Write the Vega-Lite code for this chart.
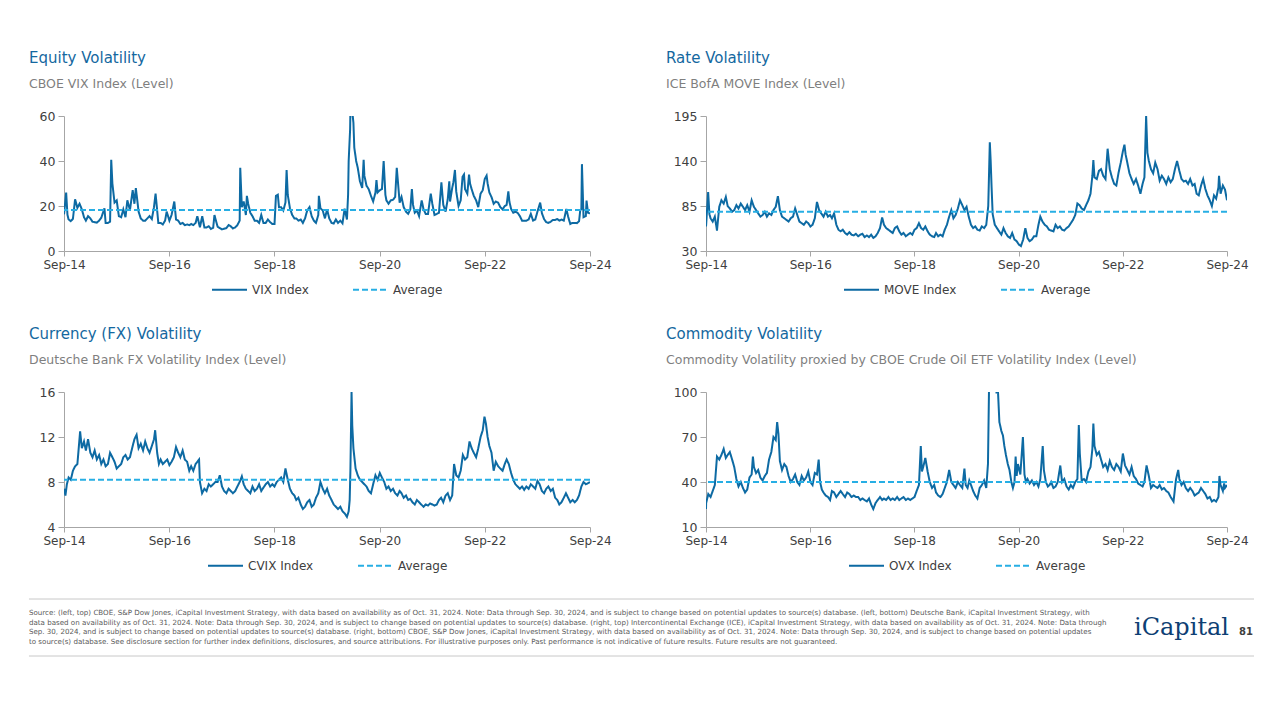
{
  "$schema": "https://vega.github.io/schema/vega-lite/v6.json",
  "background": "white",
  "padding": {"left": 28, "top": 50, "right": 0, "bottom": 0},
  "autosize": {"type": "pad"},
  "config": {
    "font": "DejaVu Sans",
    "view": {"stroke": null},
    "axis": {"grid": false, "domainColor": "#a6a6a6", "tickColor": "#a6a6a6", "labelColor": "#404040", "labelFont": "DejaVu Sans", "title": null, "labelPadding": 3},
    "axisX": {"tickSize": 5, "labelFlush": false, "labelOverlap": false, "labelFontSize": 12},
    "axisY": {"tickSize": 6, "labelFlush": false, "labelOverlap": false, "labelFontSize": 12.5},
    "title": {"anchor": "start", "frame": "group", "fontSize": 15, "font": "DejaVu Sans", "fontWeight": 400, "color": "#1468a0", "subtitleFont": "DejaVu Sans", "subtitleFontSize": 12.5, "subtitleColor": "#7f7f7f", "subtitlePadding": 12, "offset": 20},
    "legend": {"orient": "bottom", "direction": "horizontal", "labelFontSize": 12, "labelFont": "DejaVu Sans", "labelColor": "#404040", "symbolType": "stroke", "symbolSize": 1225, "symbolStrokeWidth": 2, "labelOffset": 4, "columnPadding": 40, "offset": 1, "padding": 0, "layout": {"bottom": {"anchor": "middle"}}}
  },
  "resolve": {"scale": {"color": "independent", "strokeDash": "independent"}, "legend": {"color": "independent", "strokeDash": "independent"}},
  "spacing": 26,
  "vconcat": [
    {
      "spacing": 30,
      "resolve": {"scale": {"color": "independent", "strokeDash": "independent"}, "legend": {"color": "independent", "strokeDash": "independent"}},
      "vconcat": [
        {
          "spacing": 54,
          "resolve": {"scale": {"color": "independent", "strokeDash": "independent"}, "legend": {"color": "independent", "strokeDash": "independent"}},
          "hconcat": [
            {
              "title": {"text": "Equity Volatility", "subtitle": "CBOE VIX Index (Level)", "dx": -35},
              "width": 526, "height": 135,
              "layer": [
                {
                  "data": {"format": {"parse": {"d": "date:'%Y-%m-%d'"}}, "values": [
{"d":"2014-09-30","v":16.3},{"d":"2014-10-01","v":16.7},{"d":"2014-10-15","v":26.0},{"d":"2014-10-24","v":16.1},{"d":"2014-11-01","v":14.0},{"d":"2014-11-16","v":13.3},{"d":"2014-12-01","v":14.3},{"d":"2014-12-16","v":23.0},{"d":"2015-01-01","v":19.2},{"d":"2015-01-16","v":21.0},{"d":"2015-02-01","v":18.5},{"d":"2015-02-16","v":15.0},{"d":"2015-03-01","v":13.5},{"d":"2015-03-16","v":15.5},{"d":"2015-04-01","v":14.5},{"d":"2015-04-16","v":13.0},{"d":"2015-05-01","v":12.8},{"d":"2015-05-16","v":12.6},{"d":"2015-06-01","v":13.5},{"d":"2015-06-16","v":14.8},{"d":"2015-07-08","v":19.0},{"d":"2015-07-16","v":12.5},{"d":"2015-08-01","v":12.5},{"d":"2015-08-16","v":13.0},{"d":"2015-08-24","v":40.5},{"d":"2015-09-01","v":30.0},{"d":"2015-09-16","v":21.5},{"d":"2015-10-01","v":22.5},{"d":"2015-10-16","v":15.5},{"d":"2015-11-01","v":15.0},{"d":"2015-11-16","v":18.5},{"d":"2015-12-01","v":15.0},{"d":"2015-12-14","v":22.5},{"d":"2016-01-01","v":18.2},{"d":"2016-01-20","v":27.0},{"d":"2016-02-01","v":21.0},{"d":"2016-02-11","v":28.0},{"d":"2016-03-01","v":17.5},{"d":"2016-03-16","v":14.5},{"d":"2016-04-01","v":13.5},{"d":"2016-04-16","v":13.5},{"d":"2016-05-01","v":14.5},{"d":"2016-05-16","v":15.5},{"d":"2016-06-01","v":14.2},{"d":"2016-06-16","v":19.5},{"d":"2016-06-27","v":25.5},{"d":"2016-07-16","v":12.5},{"d":"2016-08-01","v":12.5},{"d":"2016-08-16","v":11.8},{"d":"2016-09-01","v":13.5},{"d":"2016-09-12","v":17.5},{"d":"2016-10-01","v":13.5},{"d":"2016-10-16","v":16.0},{"d":"2016-11-04","v":22.0},{"d":"2016-11-16","v":14.0},{"d":"2016-12-01","v":13.5},{"d":"2016-12-16","v":12.0},{"d":"2017-01-01","v":12.5},{"d":"2017-01-16","v":11.5},{"d":"2017-02-01","v":11.8},{"d":"2017-02-16","v":11.5},{"d":"2017-03-01","v":12.0},{"d":"2017-03-16","v":11.5},{"d":"2017-04-01","v":12.5},{"d":"2017-04-13","v":15.5},{"d":"2017-05-01","v":10.5},{"d":"2017-05-17","v":15.5},{"d":"2017-06-01","v":10.5},{"d":"2017-06-16","v":10.5},{"d":"2017-07-01","v":11.0},{"d":"2017-07-16","v":9.8},{"d":"2017-08-01","v":10.3},{"d":"2017-08-10","v":16.0},{"d":"2017-08-20","v":13.5},{"d":"2017-09-01","v":10.8},{"d":"2017-09-16","v":10.2},{"d":"2017-10-01","v":9.6},{"d":"2017-10-16","v":9.9},{"d":"2017-11-01","v":10.2},{"d":"2017-11-16","v":11.5},{"d":"2017-12-01","v":11.0},{"d":"2017-12-16","v":10.0},{"d":"2018-01-01","v":10.5},{"d":"2018-01-16","v":11.5},{"d":"2018-02-01","v":13.5},{"d":"2018-02-05","v":37.0},{"d":"2018-02-16","v":19.5},{"d":"2018-03-01","v":22.0},{"d":"2018-03-16","v":16.0},{"d":"2018-03-23","v":24.5},{"d":"2018-04-01","v":21.0},{"d":"2018-04-16","v":17.0},{"d":"2018-05-01","v":15.5},{"d":"2018-05-16","v":13.5},{"d":"2018-06-01","v":13.5},{"d":"2018-06-16","v":12.5},{"d":"2018-07-01","v":16.0},{"d":"2018-07-16","v":12.5},{"d":"2018-08-01","v":12.5},{"d":"2018-08-16","v":14.0},{"d":"2018-09-01","v":12.8},{"d":"2018-09-16","v":12.0},{"d":"2018-10-01","v":12.0},{"d":"2018-10-11","v":24.5},{"d":"2018-10-24","v":25.0},{"d":"2018-11-01","v":19.5},{"d":"2018-11-16","v":19.5},{"d":"2018-12-01","v":18.0},{"d":"2018-12-16","v":21.5},{"d":"2018-12-24","v":36.0},{"d":"2019-01-01","v":25.0},{"d":"2019-01-16","v":19.0},{"d":"2019-02-01","v":16.0},{"d":"2019-02-16","v":14.5},{"d":"2019-03-01","v":14.5},{"d":"2019-03-16","v":13.5},{"d":"2019-04-01","v":14.0},{"d":"2019-04-16","v":12.5},{"d":"2019-05-01","v":14.5},{"d":"2019-05-16","v":18.0},{"d":"2019-06-01","v":19.5},{"d":"2019-06-16","v":15.5},{"d":"2019-07-01","v":13.5},{"d":"2019-07-16","v":12.5},{"d":"2019-08-01","v":16.0},{"d":"2019-08-05","v":24.5},{"d":"2019-08-16","v":19.0},{"d":"2019-09-01","v":18.0},{"d":"2019-09-16","v":14.5},{"d":"2019-10-01","v":18.5},{"d":"2019-10-16","v":14.5},{"d":"2019-11-01","v":12.5},{"d":"2019-11-16","v":12.2},{"d":"2019-12-01","v":14.0},{"d":"2019-12-16","v":12.5},{"d":"2020-01-01","v":13.5},{"d":"2020-01-16","v":12.3},{"d":"2020-01-31","v":18.8},{"d":"2020-02-16","v":14.0},{"d":"2020-02-24","v":25.0},{"d":"2020-02-28","v":40.0},{"d":"2020-03-09","v":54.0},{"d":"2020-03-16","v":82.0},{"d":"2020-03-24","v":62.0},{"d":"2020-04-01","v":57.0},{"d":"2020-04-07","v":46.0},{"d":"2020-04-20","v":40.0},{"d":"2020-05-01","v":37.0},{"d":"2020-05-16","v":31.0},{"d":"2020-06-01","v":28.0},{"d":"2020-06-11","v":40.5},{"d":"2020-06-16","v":33.5},{"d":"2020-07-01","v":29.0},{"d":"2020-07-16","v":27.5},{"d":"2020-08-01","v":24.5},{"d":"2020-08-16","v":22.0},{"d":"2020-09-01","v":26.0},{"d":"2020-09-08","v":31.5},{"d":"2020-09-16","v":26.0},{"d":"2020-10-01","v":27.0},{"d":"2020-10-16","v":27.5},{"d":"2020-10-28","v":40.0},{"d":"2020-11-09","v":25.0},{"d":"2020-11-16","v":22.5},{"d":"2020-12-01","v":21.0},{"d":"2020-12-16","v":22.5},{"d":"2021-01-01","v":22.8},{"d":"2021-01-16","v":24.0},{"d":"2021-01-27","v":37.0},{"d":"2021-02-16","v":21.5},{"d":"2021-03-01","v":24.0},{"d":"2021-03-16","v":19.5},{"d":"2021-04-01","v":17.5},{"d":"2021-04-16","v":16.5},{"d":"2021-05-01","v":18.5},{"d":"2021-05-12","v":27.5},{"d":"2021-05-20","v":20.5},{"d":"2021-06-01","v":17.0},{"d":"2021-06-16","v":18.0},{"d":"2021-07-01","v":15.5},{"d":"2021-07-19","v":22.5},{"d":"2021-08-01","v":18.5},{"d":"2021-08-16","v":16.5},{"d":"2021-09-01","v":16.5},{"d":"2021-09-20","v":25.5},{"d":"2021-10-01","v":21.0},{"d":"2021-10-16","v":16.0},{"d":"2021-11-01","v":16.5},{"d":"2021-11-16","v":17.0},{"d":"2021-11-30","v":28.0},{"d":"2021-12-03","v":30.5},{"d":"2021-12-16","v":20.5},{"d":"2022-01-01","v":17.5},{"d":"2022-01-16","v":23.0},{"d":"2022-01-27","v":31.0},{"d":"2022-02-01","v":22.0},{"d":"2022-02-16","v":28.0},{"d":"2022-02-24","v":30.5},{"d":"2022-03-07","v":36.0},{"d":"2022-03-16","v":26.5},{"d":"2022-04-01","v":20.0},{"d":"2022-04-16","v":22.5},{"d":"2022-04-29","v":33.0},{"d":"2022-05-09","v":34.0},{"d":"2022-05-16","v":27.5},{"d":"2022-06-01","v":25.5},{"d":"2022-06-13","v":34.0},{"d":"2022-06-20","v":30.0},{"d":"2022-07-01","v":27.5},{"d":"2022-07-16","v":24.5},{"d":"2022-08-01","v":22.5},{"d":"2022-08-16","v":19.5},{"d":"2022-09-01","v":25.5},{"d":"2022-09-16","v":27.0},{"d":"2022-09-30","v":32.0},{"d":"2022-10-13","v":33.5},{"d":"2022-10-20","v":30.0},{"d":"2022-11-01","v":26.0},{"d":"2022-11-16","v":24.0},{"d":"2022-12-01","v":21.0},{"d":"2022-12-16","v":22.0},{"d":"2023-01-01","v":21.5},{"d":"2023-01-16","v":19.5},{"d":"2023-02-01","v":18.5},{"d":"2023-02-16","v":20.0},{"d":"2023-03-01","v":20.5},{"d":"2023-03-13","v":26.5},{"d":"2023-03-20","v":22.0},{"d":"2023-04-01","v":18.7},{"d":"2023-04-16","v":17.0},{"d":"2023-05-01","v":17.5},{"d":"2023-05-16","v":17.0},{"d":"2023-06-01","v":15.5},{"d":"2023-06-16","v":13.5},{"d":"2023-07-01","v":13.5},{"d":"2023-07-16","v":13.5},{"d":"2023-08-01","v":14.0},{"d":"2023-08-16","v":16.5},{"d":"2023-09-01","v":13.5},{"d":"2023-09-16","v":14.0},{"d":"2023-10-01","v":17.5},{"d":"2023-10-20","v":21.5},{"d":"2023-11-01","v":16.8},{"d":"2023-11-16","v":14.2},{"d":"2023-12-01","v":12.8},{"d":"2023-12-16","v":12.5},{"d":"2024-01-01","v":13.0},{"d":"2024-01-16","v":13.8},{"d":"2024-02-01","v":13.8},{"d":"2024-02-16","v":14.2},{"d":"2024-03-01","v":13.5},{"d":"2024-03-16","v":14.0},{"d":"2024-04-01","v":13.5},{"d":"2024-04-19","v":18.7},{"d":"2024-05-01","v":15.3},{"d":"2024-05-16","v":12.0},{"d":"2024-06-01","v":12.5},{"d":"2024-06-16","v":12.5},{"d":"2024-07-01","v":12.4},{"d":"2024-07-16","v":13.2},{"d":"2024-07-24","v":18.0},{"d":"2024-08-01","v":18.6},{"d":"2024-08-05","v":38.6},{"d":"2024-08-16","v":15.0},{"d":"2024-09-01","v":15.5},{"d":"2024-09-06","v":22.4},{"d":"2024-09-16","v":17.0},{"d":"2024-09-30","v":16.7}
                  ]},
                  "mark": {"type": "line", "strokeWidth": 2, "clip": true},
                  "encoding": {
                    "x": {"field": "d", "type": "temporal", "scale": {"domain": [{"year": 2014, "month": 9, "date": 30}, {"year": 2024, "month": 9, "date": 30}]}, "axis": {"format": "%b-%y", "values": [{"year": 2014, "month": 9, "date": 30}, {"year": 2016, "month": 9, "date": 30}, {"year": 2018, "month": 9, "date": 30}, {"year": 2020, "month": 9, "date": 30}, {"year": 2022, "month": 9, "date": 30}, {"year": 2024, "month": 9, "date": 30}]}},
                    "y": {"field": "v", "type": "quantitative", "scale": {"domain": [0, 60], "nice": false, "zero": false}, "axis": {"values": [0, 20, 40, 60]}},
                    "color": {"datum": "VIX Index", "type": "nominal", "scale": {"domain": ["VIX Index", "Average"], "range": ["#0d6aa3", "#27aee4"]}, "legend": {"title": null}},
                    "strokeDash": {"datum": "VIX Index", "type": "nominal", "scale": {"domain": ["VIX Index", "Average"], "range": [[1, 0], [6, 3]]}, "legend": {"title": null}}
                  }
                },
                {
                  "data": {"values": [{"v": 18.2}]},
                  "mark": {"type": "rule", "strokeWidth": 2},
                  "encoding": {
                    "y": {"field": "v", "type": "quantitative"},
                    "color": {"datum": "Average", "type": "nominal"},
                    "strokeDash": {"datum": "Average", "type": "nominal"}
                  }
                }
              ]
            },
            {
              "title": {"text": "Rate Volatility", "subtitle": "ICE BofA MOVE Index (Level)", "dx": -40},
              "width": 521, "height": 135,
              "layer": [
                {
                  "data": {"format": {"parse": {"d": "date:'%Y-%m-%d'"}}, "values": [
{"d":"2014-09-30","v":60},{"d":"2014-10-01","v":62},{"d":"2014-10-15","v":102},{"d":"2014-10-24","v":75},{"d":"2014-11-01","v":70},{"d":"2014-11-16","v":66},{"d":"2014-12-01","v":72},{"d":"2014-12-16","v":55},{"d":"2015-01-01","v":84},{"d":"2015-01-16","v":92},{"d":"2015-02-01","v":88},{"d":"2015-02-16","v":96},{"d":"2015-03-01","v":85},{"d":"2015-03-16","v":82},{"d":"2015-04-01","v":78},{"d":"2015-04-16","v":80},{"d":"2015-05-01","v":86},{"d":"2015-05-16","v":82},{"d":"2015-06-01","v":88},{"d":"2015-06-16","v":84},{"d":"2015-07-01","v":80},{"d":"2015-07-16","v":86},{"d":"2015-08-01","v":78},{"d":"2015-08-16","v":92},{"d":"2015-09-01","v":84},{"d":"2015-09-16","v":80},{"d":"2015-10-01","v":76},{"d":"2015-10-16","v":72},{"d":"2015-11-01","v":74},{"d":"2015-11-16","v":78},{"d":"2015-12-01","v":72},{"d":"2015-12-16","v":76},{"d":"2016-01-01","v":74},{"d":"2016-01-16","v":80},{"d":"2016-02-01","v":84},{"d":"2016-02-16","v":97},{"d":"2016-03-01","v":80},{"d":"2016-03-16","v":72},{"d":"2016-04-01","v":70},{"d":"2016-04-16","v":68},{"d":"2016-05-01","v":66},{"d":"2016-05-16","v":70},{"d":"2016-06-01","v":72},{"d":"2016-06-16","v":82},{"d":"2016-07-01","v":74},{"d":"2016-07-16","v":66},{"d":"2016-08-01","v":64},{"d":"2016-08-16","v":62},{"d":"2016-09-01","v":66},{"d":"2016-09-16","v":64},{"d":"2016-10-01","v":60},{"d":"2016-10-16","v":62},{"d":"2016-11-01","v":70},{"d":"2016-11-16","v":90},{"d":"2016-12-01","v":80},{"d":"2016-12-16","v":76},{"d":"2017-01-01","v":72},{"d":"2017-01-16","v":78},{"d":"2017-02-01","v":72},{"d":"2017-02-16","v":74},{"d":"2017-03-01","v":70},{"d":"2017-03-16","v":76},{"d":"2017-04-01","v":62},{"d":"2017-04-16","v":56},{"d":"2017-05-01","v":54},{"d":"2017-05-16","v":56},{"d":"2017-06-01","v":52},{"d":"2017-06-16","v":50},{"d":"2017-07-01","v":53},{"d":"2017-07-16","v":50},{"d":"2017-08-01","v":49},{"d":"2017-08-16","v":51},{"d":"2017-09-01","v":48},{"d":"2017-09-16","v":50},{"d":"2017-10-01","v":51},{"d":"2017-10-16","v":47},{"d":"2017-11-01","v":49},{"d":"2017-11-16","v":47},{"d":"2017-12-01","v":50},{"d":"2017-12-16","v":46},{"d":"2018-01-01","v":48},{"d":"2018-01-16","v":52},{"d":"2018-02-01","v":58},{"d":"2018-02-16","v":71},{"d":"2018-03-01","v":62},{"d":"2018-03-16","v":58},{"d":"2018-04-01","v":56},{"d":"2018-04-16","v":54},{"d":"2018-05-01","v":52},{"d":"2018-05-16","v":58},{"d":"2018-06-01","v":60},{"d":"2018-06-16","v":54},{"d":"2018-07-01","v":50},{"d":"2018-07-16","v":52},{"d":"2018-08-01","v":48},{"d":"2018-08-16","v":50},{"d":"2018-09-01","v":52},{"d":"2018-09-16","v":50},{"d":"2018-10-01","v":56},{"d":"2018-10-16","v":58},{"d":"2018-11-01","v":64},{"d":"2018-11-16","v":58},{"d":"2018-12-01","v":56},{"d":"2018-12-16","v":60},{"d":"2019-01-01","v":54},{"d":"2019-01-16","v":50},{"d":"2019-02-01","v":48},{"d":"2019-02-16","v":47},{"d":"2019-03-01","v":52},{"d":"2019-03-16","v":48},{"d":"2019-04-01","v":50},{"d":"2019-04-16","v":48},{"d":"2019-05-01","v":56},{"d":"2019-05-16","v":62},{"d":"2019-06-01","v":72},{"d":"2019-06-16","v":80},{"d":"2019-07-01","v":70},{"d":"2019-07-16","v":74},{"d":"2019-08-01","v":82},{"d":"2019-08-16","v":92},{"d":"2019-09-01","v":86},{"d":"2019-09-16","v":80},{"d":"2019-10-01","v":84},{"d":"2019-10-16","v":72},{"d":"2019-11-01","v":62},{"d":"2019-11-16","v":58},{"d":"2019-12-01","v":60},{"d":"2019-12-16","v":56},{"d":"2020-01-01","v":55},{"d":"2020-01-16","v":60},{"d":"2020-02-01","v":58},{"d":"2020-02-16","v":62},{"d":"2020-03-01","v":85},{"d":"2020-03-12","v":163},{"d":"2020-03-18","v":140},{"d":"2020-03-24","v":110},{"d":"2020-04-01","v":75},{"d":"2020-04-16","v":62},{"d":"2020-05-01","v":58},{"d":"2020-05-16","v":54},{"d":"2020-06-01","v":50},{"d":"2020-06-16","v":58},{"d":"2020-07-01","v":52},{"d":"2020-07-16","v":48},{"d":"2020-08-01","v":46},{"d":"2020-08-16","v":52},{"d":"2020-09-01","v":44},{"d":"2020-09-16","v":42},{"d":"2020-10-01","v":38},{"d":"2020-10-16","v":36},{"d":"2020-11-01","v":44},{"d":"2020-11-16","v":58},{"d":"2020-12-01","v":46},{"d":"2020-12-16","v":42},{"d":"2021-01-01","v":44},{"d":"2021-01-16","v":48},{"d":"2021-02-01","v":48},{"d":"2021-02-16","v":62},{"d":"2021-03-01","v":72},{"d":"2021-03-16","v":66},{"d":"2021-04-01","v":62},{"d":"2021-04-16","v":60},{"d":"2021-05-01","v":56},{"d":"2021-05-16","v":55},{"d":"2021-06-01","v":54},{"d":"2021-06-16","v":62},{"d":"2021-07-01","v":58},{"d":"2021-07-16","v":60},{"d":"2021-08-01","v":56},{"d":"2021-08-16","v":55},{"d":"2021-09-01","v":58},{"d":"2021-09-16","v":60},{"d":"2021-10-01","v":64},{"d":"2021-10-16","v":68},{"d":"2021-11-01","v":74},{"d":"2021-11-16","v":88},{"d":"2021-12-01","v":86},{"d":"2021-12-16","v":82},{"d":"2022-01-01","v":80},{"d":"2022-01-16","v":86},{"d":"2022-02-01","v":92},{"d":"2022-02-16","v":100},{"d":"2022-03-01","v":122},{"d":"2022-03-08","v":141},{"d":"2022-03-16","v":120},{"d":"2022-04-01","v":118},{"d":"2022-04-16","v":128},{"d":"2022-05-01","v":130},{"d":"2022-05-16","v":122},{"d":"2022-06-01","v":118},{"d":"2022-06-16","v":155},{"d":"2022-07-01","v":130},{"d":"2022-07-16","v":120},{"d":"2022-08-01","v":112},{"d":"2022-08-16","v":110},{"d":"2022-09-01","v":126},{"d":"2022-09-16","v":138},{"d":"2022-10-01","v":152},{"d":"2022-10-12","v":160},{"d":"2022-10-20","v":148},{"d":"2022-11-01","v":138},{"d":"2022-11-16","v":125},{"d":"2022-12-01","v":118},{"d":"2022-12-16","v":112},{"d":"2023-01-01","v":118},{"d":"2023-01-16","v":110},{"d":"2023-02-01","v":100},{"d":"2023-02-16","v":112},{"d":"2023-03-01","v":120},{"d":"2023-03-13","v":195},{"d":"2023-03-22","v":150},{"d":"2023-04-01","v":140},{"d":"2023-04-16","v":130},{"d":"2023-05-01","v":125},{"d":"2023-05-16","v":138},{"d":"2023-06-01","v":130},{"d":"2023-06-16","v":116},{"d":"2023-07-01","v":122},{"d":"2023-07-16","v":118},{"d":"2023-08-01","v":112},{"d":"2023-08-16","v":120},{"d":"2023-09-01","v":114},{"d":"2023-09-16","v":118},{"d":"2023-10-01","v":130},{"d":"2023-10-16","v":140},{"d":"2023-11-01","v":128},{"d":"2023-11-16","v":118},{"d":"2023-12-01","v":115},{"d":"2023-12-16","v":116},{"d":"2024-01-01","v":112},{"d":"2024-01-16","v":118},{"d":"2024-02-01","v":110},{"d":"2024-02-16","v":112},{"d":"2024-03-01","v":100},{"d":"2024-03-16","v":98},{"d":"2024-04-01","v":110},{"d":"2024-04-16","v":118},{"d":"2024-05-01","v":106},{"d":"2024-05-16","v":98},{"d":"2024-06-01","v":92},{"d":"2024-06-16","v":85},{"d":"2024-07-01","v":98},{"d":"2024-07-16","v":94},{"d":"2024-08-01","v":108},{"d":"2024-08-05","v":122},{"d":"2024-08-16","v":100},{"d":"2024-09-01","v":110},{"d":"2024-09-16","v":105},{"d":"2024-09-30","v":92}
                  ]},
                  "mark": {"type": "line", "strokeWidth": 2, "clip": true},
                  "encoding": {
                    "x": {"field": "d", "type": "temporal", "scale": {"domain": [{"year": 2014, "month": 9, "date": 30}, {"year": 2024, "month": 9, "date": 30}]}, "axis": {"format": "%b-%y", "values": [{"year": 2014, "month": 9, "date": 30}, {"year": 2016, "month": 9, "date": 30}, {"year": 2018, "month": 9, "date": 30}, {"year": 2020, "month": 9, "date": 30}, {"year": 2022, "month": 9, "date": 30}, {"year": 2024, "month": 9, "date": 30}]}},
                    "y": {"field": "v", "type": "quantitative", "scale": {"domain": [30, 195], "nice": false, "zero": false}, "axis": {"values": [30, 85, 140, 195]}},
                    "color": {"datum": "MOVE Index", "type": "nominal", "scale": {"domain": ["MOVE Index", "Average"], "range": ["#0d6aa3", "#27aee4"]}, "legend": {"title": null}},
                    "strokeDash": {"datum": "MOVE Index", "type": "nominal", "scale": {"domain": ["MOVE Index", "Average"], "range": [[1, 0], [6, 3]]}, "legend": {"title": null}}
                  }
                },
                {
                  "data": {"values": [{"v": 78}]},
                  "mark": {"type": "rule", "strokeWidth": 2},
                  "encoding": {
                    "y": {"field": "v", "type": "quantitative"},
                    "color": {"datum": "Average", "type": "nominal"},
                    "strokeDash": {"datum": "Average", "type": "nominal"}
                  }
                }
              ]
            }
          ]
        },
        {
          "spacing": 54,
          "resolve": {"scale": {"color": "independent", "strokeDash": "independent"}, "legend": {"color": "independent", "strokeDash": "independent"}},
          "hconcat": [
            {
              "title": {"text": "Currency (FX) Volatility", "subtitle": "Deutsche Bank FX Volatility Index (Level)", "dx": -35},
              "width": 526, "height": 135,
              "layer": [
                {
                  "data": {"format": {"parse": {"d": "date:'%Y-%m-%d'"}}, "values": [
{"d":"2014-09-30","v":7.2},{"d":"2014-10-01","v":7.4},{"d":"2014-10-10","v":6.8},{"d":"2014-10-20","v":7.8},{"d":"2014-11-01","v":8.4},{"d":"2014-11-16","v":8.2},{"d":"2014-12-01","v":9.0},{"d":"2014-12-16","v":9.4},{"d":"2015-01-01","v":9.6},{"d":"2015-01-20","v":12.5},{"d":"2015-02-01","v":11.0},{"d":"2015-02-16","v":11.6},{"d":"2015-03-01","v":10.8},{"d":"2015-03-16","v":11.8},{"d":"2015-04-01","v":10.6},{"d":"2015-04-16","v":10.2},{"d":"2015-05-01","v":10.8},{"d":"2015-05-16","v":10.0},{"d":"2015-06-01","v":10.4},{"d":"2015-06-16","v":9.6},{"d":"2015-07-01","v":10.0},{"d":"2015-07-16","v":9.4},{"d":"2015-08-01","v":9.6},{"d":"2015-08-16","v":10.6},{"d":"2015-09-01","v":10.2},{"d":"2015-09-16","v":9.8},{"d":"2015-10-01","v":9.2},{"d":"2015-10-16","v":9.4},{"d":"2015-11-01","v":9.6},{"d":"2015-11-16","v":10.2},{"d":"2015-12-01","v":10.4},{"d":"2015-12-16","v":10.0},{"d":"2016-01-01","v":10.2},{"d":"2016-01-16","v":11.0},{"d":"2016-02-01","v":11.8},{"d":"2016-02-16","v":12.2},{"d":"2016-03-01","v":11.0},{"d":"2016-03-16","v":11.4},{"d":"2016-04-01","v":10.8},{"d":"2016-04-16","v":11.6},{"d":"2016-05-01","v":11.0},{"d":"2016-05-16","v":10.6},{"d":"2016-06-01","v":11.2},{"d":"2016-06-16","v":11.8},{"d":"2016-06-24","v":12.6},{"d":"2016-07-08","v":10.6},{"d":"2016-07-20","v":9.6},{"d":"2016-08-01","v":10.0},{"d":"2016-08-16","v":9.6},{"d":"2016-09-01","v":9.8},{"d":"2016-09-16","v":10.0},{"d":"2016-10-01","v":9.5},{"d":"2016-10-16","v":9.8},{"d":"2016-11-01","v":10.2},{"d":"2016-11-16","v":11.1},{"d":"2016-12-01","v":10.6},{"d":"2016-12-16","v":10.2},{"d":"2017-01-01","v":10.8},{"d":"2017-01-16","v":10.0},{"d":"2017-02-01","v":9.8},{"d":"2017-02-16","v":9.0},{"d":"2017-03-01","v":9.4},{"d":"2017-03-16","v":9.0},{"d":"2017-04-01","v":9.6},{"d":"2017-04-25","v":10.0},{"d":"2017-05-01","v":8.0},{"d":"2017-05-16","v":7.0},{"d":"2017-06-01","v":7.4},{"d":"2017-06-16","v":7.2},{"d":"2017-07-01","v":7.8},{"d":"2017-07-16","v":7.6},{"d":"2017-08-01","v":7.8},{"d":"2017-08-16","v":8.0},{"d":"2017-09-01","v":8.0},{"d":"2017-09-16","v":8.6},{"d":"2017-10-01","v":7.6},{"d":"2017-10-16","v":7.2},{"d":"2017-11-01","v":7.0},{"d":"2017-11-16","v":7.4},{"d":"2017-12-01","v":7.2},{"d":"2017-12-16","v":7.0},{"d":"2018-01-01","v":7.2},{"d":"2018-01-16","v":7.6},{"d":"2018-02-01","v":8.0},{"d":"2018-02-16","v":8.5},{"d":"2018-03-01","v":7.8},{"d":"2018-03-16","v":7.4},{"d":"2018-04-01","v":7.2},{"d":"2018-04-16","v":7.0},{"d":"2018-05-01","v":7.6},{"d":"2018-05-16","v":7.2},{"d":"2018-06-01","v":7.4},{"d":"2018-06-16","v":7.8},{"d":"2018-07-01","v":7.2},{"d":"2018-07-16","v":7.5},{"d":"2018-08-01","v":7.8},{"d":"2018-08-16","v":8.0},{"d":"2018-09-01","v":7.6},{"d":"2018-09-16","v":7.8},{"d":"2018-10-01","v":7.6},{"d":"2018-10-16","v":8.0},{"d":"2018-11-01","v":8.2},{"d":"2018-11-16","v":8.4},{"d":"2018-12-01","v":8.0},{"d":"2018-12-16","v":9.2},{"d":"2019-01-01","v":8.2},{"d":"2019-01-16","v":7.4},{"d":"2019-02-01","v":7.0},{"d":"2019-02-16","v":6.8},{"d":"2019-03-01","v":6.4},{"d":"2019-03-16","v":6.6},{"d":"2019-04-01","v":6.0},{"d":"2019-04-16","v":5.6},{"d":"2019-05-01","v":5.8},{"d":"2019-05-16","v":6.2},{"d":"2019-06-01","v":6.4},{"d":"2019-06-16","v":5.8},{"d":"2019-07-01","v":6.0},{"d":"2019-07-16","v":6.6},{"d":"2019-08-01","v":7.0},{"d":"2019-08-16","v":8.0},{"d":"2019-09-01","v":7.4},{"d":"2019-09-16","v":7.0},{"d":"2019-10-01","v":7.4},{"d":"2019-10-16","v":6.8},{"d":"2019-11-01","v":6.4},{"d":"2019-11-16","v":6.0},{"d":"2019-12-01","v":5.8},{"d":"2019-12-16","v":5.6},{"d":"2020-01-01","v":5.8},{"d":"2020-01-16","v":5.4},{"d":"2020-02-01","v":5.2},{"d":"2020-02-16","v":4.9},{"d":"2020-02-28","v":5.4},{"d":"2020-03-06","v":6.4},{"d":"2020-03-11","v":9.0},{"d":"2020-03-19","v":16.0},{"d":"2020-03-24","v":13.0},{"d":"2020-04-01","v":11.0},{"d":"2020-04-16","v":9.2},{"d":"2020-05-01","v":8.6},{"d":"2020-05-16","v":8.2},{"d":"2020-06-01","v":8.0},{"d":"2020-06-16","v":7.8},{"d":"2020-07-01","v":7.6},{"d":"2020-07-16","v":7.2},{"d":"2020-08-01","v":7.0},{"d":"2020-08-16","v":7.8},{"d":"2020-09-01","v":8.6},{"d":"2020-09-16","v":8.2},{"d":"2020-10-01","v":8.8},{"d":"2020-10-16","v":8.4},{"d":"2020-11-01","v":8.0},{"d":"2020-11-16","v":7.4},{"d":"2020-12-01","v":7.6},{"d":"2020-12-16","v":7.2},{"d":"2021-01-01","v":7.4},{"d":"2021-01-16","v":7.0},{"d":"2021-02-01","v":6.8},{"d":"2021-02-16","v":7.2},{"d":"2021-03-01","v":7.0},{"d":"2021-03-16","v":6.6},{"d":"2021-04-01","v":6.8},{"d":"2021-04-16","v":6.4},{"d":"2021-05-01","v":6.5},{"d":"2021-05-16","v":6.2},{"d":"2021-06-01","v":6.0},{"d":"2021-06-16","v":6.4},{"d":"2021-07-01","v":6.2},{"d":"2021-07-16","v":6.0},{"d":"2021-08-01","v":5.8},{"d":"2021-08-16","v":6.0},{"d":"2021-09-01","v":5.9},{"d":"2021-09-16","v":6.1},{"d":"2021-10-01","v":6.0},{"d":"2021-10-16","v":5.9},{"d":"2021-11-01","v":6.0},{"d":"2021-11-16","v":6.4},{"d":"2021-12-01","v":6.6},{"d":"2021-12-16","v":6.2},{"d":"2022-01-01","v":6.8},{"d":"2022-01-16","v":7.0},{"d":"2022-02-01","v":6.4},{"d":"2022-02-16","v":6.8},{"d":"2022-03-01","v":9.6},{"d":"2022-03-16","v":8.6},{"d":"2022-04-01","v":8.4},{"d":"2022-04-16","v":9.0},{"d":"2022-05-01","v":10.4},{"d":"2022-05-16","v":10.0},{"d":"2022-06-01","v":10.2},{"d":"2022-06-16","v":11.6},{"d":"2022-07-01","v":11.0},{"d":"2022-07-16","v":10.6},{"d":"2022-08-01","v":10.2},{"d":"2022-08-16","v":11.0},{"d":"2022-09-01","v":12.0},{"d":"2022-09-16","v":12.6},{"d":"2022-09-28","v":13.8},{"d":"2022-10-08","v":13.2},{"d":"2022-10-20","v":12.0},{"d":"2022-11-01","v":11.2},{"d":"2022-11-16","v":10.6},{"d":"2022-12-01","v":9.0},{"d":"2022-12-16","v":9.8},{"d":"2023-01-01","v":9.4},{"d":"2023-01-16","v":9.2},{"d":"2023-02-01","v":9.0},{"d":"2023-02-16","v":9.6},{"d":"2023-03-01","v":10.0},{"d":"2023-03-16","v":9.6},{"d":"2023-04-01","v":8.8},{"d":"2023-04-16","v":8.2},{"d":"2023-05-01","v":7.8},{"d":"2023-05-16","v":7.6},{"d":"2023-06-01","v":7.4},{"d":"2023-06-16","v":7.6},{"d":"2023-07-01","v":7.3},{"d":"2023-07-16","v":7.6},{"d":"2023-08-01","v":7.4},{"d":"2023-08-16","v":7.8},{"d":"2023-09-01","v":7.6},{"d":"2023-09-16","v":7.4},{"d":"2023-10-01","v":8.1},{"d":"2023-10-16","v":7.8},{"d":"2023-11-01","v":7.2},{"d":"2023-11-16","v":7.0},{"d":"2023-12-01","v":7.4},{"d":"2023-12-16","v":7.6},{"d":"2024-01-01","v":7.2},{"d":"2024-01-16","v":7.4},{"d":"2024-02-01","v":6.6},{"d":"2024-02-16","v":6.4},{"d":"2024-03-01","v":6.0},{"d":"2024-03-16","v":6.2},{"d":"2024-04-01","v":6.6},{"d":"2024-04-16","v":7.0},{"d":"2024-05-01","v":6.6},{"d":"2024-05-16","v":6.2},{"d":"2024-06-01","v":6.4},{"d":"2024-06-16","v":6.2},{"d":"2024-07-01","v":6.4},{"d":"2024-07-16","v":6.8},{"d":"2024-08-01","v":7.6},{"d":"2024-08-16","v":8.0},{"d":"2024-09-01","v":7.8},{"d":"2024-09-16","v":7.9},{"d":"2024-09-30","v":8.0}
                  ]},
                  "mark": {"type": "line", "strokeWidth": 2, "clip": true},
                  "encoding": {
                    "x": {"field": "d", "type": "temporal", "scale": {"domain": [{"year": 2014, "month": 9, "date": 30}, {"year": 2024, "month": 9, "date": 30}]}, "axis": {"format": "%b-%y", "values": [{"year": 2014, "month": 9, "date": 30}, {"year": 2016, "month": 9, "date": 30}, {"year": 2018, "month": 9, "date": 30}, {"year": 2020, "month": 9, "date": 30}, {"year": 2022, "month": 9, "date": 30}, {"year": 2024, "month": 9, "date": 30}]}},
                    "y": {"field": "v", "type": "quantitative", "scale": {"domain": [4, 16], "nice": false, "zero": false}, "axis": {"values": [4, 8, 12, 16]}},
                    "color": {"datum": "CVIX Index", "type": "nominal", "scale": {"domain": ["CVIX Index", "Average"], "range": ["#0d6aa3", "#27aee4"]}, "legend": {"title": null}},
                    "strokeDash": {"datum": "CVIX Index", "type": "nominal", "scale": {"domain": ["CVIX Index", "Average"], "range": [[1, 0], [6, 3]]}, "legend": {"title": null}}
                  }
                },
                {
                  "data": {"values": [{"v": 8.2}]},
                  "mark": {"type": "rule", "strokeWidth": 2},
                  "encoding": {
                    "y": {"field": "v", "type": "quantitative"},
                    "color": {"datum": "Average", "type": "nominal"},
                    "strokeDash": {"datum": "Average", "type": "nominal"}
                  }
                }
              ]
            },
            {
              "title": {"text": "Commodity Volatility", "subtitle": "Commodity Volatility proxied by CBOE Crude Oil ETF Volatility Index (Level)", "dx": -40},
              "width": 521, "height": 135,
              "layer": [
                {
                  "data": {"format": {"parse": {"d": "date:'%Y-%m-%d'"}}, "values": [
{"d":"2014-09-30","v":22},{"d":"2014-10-01","v":26},{"d":"2014-10-16","v":32},{"d":"2014-11-01","v":30},{"d":"2014-11-16","v":34},{"d":"2014-12-01","v":38},{"d":"2014-12-16","v":57},{"d":"2015-01-01","v":55},{"d":"2015-01-16","v":58},{"d":"2015-02-01","v":62},{"d":"2015-02-16","v":56},{"d":"2015-03-01","v":58},{"d":"2015-03-16","v":60},{"d":"2015-04-01","v":55},{"d":"2015-04-16","v":50},{"d":"2015-05-01","v":42},{"d":"2015-05-16","v":37},{"d":"2015-06-01","v":40},{"d":"2015-06-16","v":36},{"d":"2015-07-01","v":33},{"d":"2015-07-16","v":35},{"d":"2015-08-01","v":43},{"d":"2015-08-16","v":45},{"d":"2015-08-25","v":57},{"d":"2015-09-01","v":50},{"d":"2015-09-16","v":46},{"d":"2015-10-01","v":48},{"d":"2015-10-16","v":43},{"d":"2015-11-01","v":41},{"d":"2015-11-16","v":44},{"d":"2015-12-01","v":46},{"d":"2015-12-16","v":55},{"d":"2016-01-01","v":60},{"d":"2016-01-16","v":70},{"d":"2016-02-01","v":68},{"d":"2016-02-11","v":80},{"d":"2016-02-20","v":72},{"d":"2016-03-01","v":54},{"d":"2016-03-16","v":48},{"d":"2016-04-01","v":52},{"d":"2016-04-16","v":50},{"d":"2016-05-01","v":44},{"d":"2016-05-16","v":40},{"d":"2016-06-01","v":42},{"d":"2016-06-16","v":45},{"d":"2016-07-01","v":40},{"d":"2016-07-16","v":38},{"d":"2016-08-01","v":44},{"d":"2016-08-16","v":41},{"d":"2016-09-01","v":43},{"d":"2016-09-16","v":47},{"d":"2016-10-01","v":40},{"d":"2016-10-16","v":38},{"d":"2016-11-01","v":46},{"d":"2016-11-16","v":45},{"d":"2016-11-28","v":55},{"d":"2016-12-08","v":40},{"d":"2016-12-20","v":35},{"d":"2017-01-01","v":33},{"d":"2017-01-16","v":31},{"d":"2017-02-01","v":30},{"d":"2017-02-16","v":28},{"d":"2017-03-01","v":34},{"d":"2017-03-16","v":33},{"d":"2017-04-01","v":30},{"d":"2017-04-16","v":32},{"d":"2017-05-01","v":34},{"d":"2017-05-16","v":32},{"d":"2017-06-01","v":30},{"d":"2017-06-16","v":33},{"d":"2017-07-01","v":32},{"d":"2017-07-16","v":30},{"d":"2017-08-01","v":31},{"d":"2017-08-16","v":30},{"d":"2017-09-01","v":30},{"d":"2017-09-16","v":28},{"d":"2017-10-01","v":29},{"d":"2017-10-16","v":28},{"d":"2017-11-01","v":27},{"d":"2017-11-16","v":29},{"d":"2017-12-01","v":25},{"d":"2017-12-16","v":22},{"d":"2018-01-01","v":26},{"d":"2018-01-16","v":28},{"d":"2018-02-01","v":30},{"d":"2018-02-16","v":28},{"d":"2018-03-01","v":29},{"d":"2018-03-16","v":28},{"d":"2018-04-01","v":30},{"d":"2018-04-16","v":28},{"d":"2018-05-01","v":29},{"d":"2018-05-16","v":28},{"d":"2018-06-01","v":30},{"d":"2018-06-16","v":28},{"d":"2018-07-01","v":29},{"d":"2018-07-16","v":30},{"d":"2018-08-01","v":28},{"d":"2018-08-16","v":29},{"d":"2018-09-01","v":28},{"d":"2018-09-16","v":29},{"d":"2018-10-01","v":30},{"d":"2018-10-16","v":34},{"d":"2018-11-01","v":38},{"d":"2018-11-14","v":64},{"d":"2018-11-22","v":47},{"d":"2018-12-01","v":50},{"d":"2018-12-16","v":56},{"d":"2019-01-01","v":47},{"d":"2019-01-16","v":40},{"d":"2019-02-01","v":36},{"d":"2019-02-16","v":38},{"d":"2019-03-01","v":33},{"d":"2019-03-16","v":31},{"d":"2019-04-01","v":30},{"d":"2019-04-16","v":32},{"d":"2019-05-01","v":36},{"d":"2019-05-16","v":40},{"d":"2019-06-01","v":48},{"d":"2019-06-16","v":40},{"d":"2019-07-01","v":38},{"d":"2019-07-16","v":36},{"d":"2019-08-01","v":40},{"d":"2019-08-16","v":38},{"d":"2019-09-01","v":36},{"d":"2019-09-16","v":49},{"d":"2019-09-25","v":38},{"d":"2019-10-08","v":36},{"d":"2019-10-20","v":41},{"d":"2019-11-01","v":38},{"d":"2019-11-16","v":34},{"d":"2019-12-01","v":31},{"d":"2019-12-16","v":29},{"d":"2020-01-01","v":36},{"d":"2020-01-16","v":38},{"d":"2020-02-01","v":41},{"d":"2020-02-16","v":36},{"d":"2020-02-28","v":52},{"d":"2020-03-09","v":120},{"d":"2020-03-16","v":150},{"d":"2020-04-01","v":200},{"d":"2020-04-16","v":250},{"d":"2020-04-24","v":110},{"d":"2020-04-28","v":99},{"d":"2020-05-01","v":104},{"d":"2020-05-05","v":99},{"d":"2020-05-08","v":101},{"d":"2020-05-18","v":80},{"d":"2020-06-01","v":74},{"d":"2020-06-12","v":71},{"d":"2020-06-22","v":64},{"d":"2020-07-03","v":58},{"d":"2020-07-16","v":52},{"d":"2020-07-28","v":48},{"d":"2020-08-10","v":40},{"d":"2020-08-21","v":36},{"d":"2020-09-01","v":40},{"d":"2020-09-09","v":57},{"d":"2020-09-16","v":44},{"d":"2020-09-25","v":52},{"d":"2020-10-12","v":45},{"d":"2020-10-30","v":70},{"d":"2020-11-10","v":45},{"d":"2020-11-20","v":40},{"d":"2020-12-01","v":42},{"d":"2020-12-16","v":39},{"d":"2021-01-01","v":41},{"d":"2021-01-16","v":38},{"d":"2021-02-01","v":40},{"d":"2021-02-16","v":37},{"d":"2021-03-01","v":42},{"d":"2021-03-18","v":64},{"d":"2021-03-26","v":48},{"d":"2021-04-09","v":40},{"d":"2021-04-23","v":37},{"d":"2021-05-05","v":38},{"d":"2021-05-16","v":40},{"d":"2021-06-01","v":36},{"d":"2021-06-16","v":37},{"d":"2021-07-01","v":40},{"d":"2021-07-19","v":51},{"d":"2021-08-01","v":40},{"d":"2021-08-16","v":42},{"d":"2021-09-01","v":37},{"d":"2021-09-16","v":35},{"d":"2021-10-01","v":38},{"d":"2021-10-16","v":36},{"d":"2021-11-01","v":40},{"d":"2021-11-16","v":42},{"d":"2021-11-26","v":78},{"d":"2021-12-03","v":59},{"d":"2021-12-16","v":41},{"d":"2022-01-01","v":42},{"d":"2022-01-16","v":40},{"d":"2022-02-01","v":47},{"d":"2022-02-16","v":50},{"d":"2022-03-01","v":62},{"d":"2022-03-08","v":79},{"d":"2022-03-16","v":64},{"d":"2022-04-01","v":58},{"d":"2022-04-16","v":60},{"d":"2022-05-01","v":55},{"d":"2022-05-16","v":50},{"d":"2022-06-01","v":52},{"d":"2022-06-16","v":48},{"d":"2022-07-01","v":54},{"d":"2022-07-16","v":50},{"d":"2022-08-01","v":48},{"d":"2022-08-16","v":52},{"d":"2022-09-01","v":50},{"d":"2022-09-16","v":47},{"d":"2022-10-01","v":59},{"d":"2022-10-16","v":51},{"d":"2022-11-01","v":48},{"d":"2022-11-16","v":45},{"d":"2022-12-01","v":50},{"d":"2022-12-16","v":44},{"d":"2023-01-01","v":42},{"d":"2023-01-16","v":39},{"d":"2023-02-01","v":38},{"d":"2023-02-16","v":37},{"d":"2023-03-01","v":40},{"d":"2023-03-16","v":51},{"d":"2023-04-01","v":44},{"d":"2023-04-16","v":36},{"d":"2023-05-01","v":38},{"d":"2023-05-16","v":37},{"d":"2023-06-01","v":36},{"d":"2023-06-16","v":38},{"d":"2023-07-01","v":35},{"d":"2023-07-16","v":36},{"d":"2023-08-01","v":34},{"d":"2023-08-16","v":33},{"d":"2023-09-01","v":30},{"d":"2023-09-21","v":27},{"d":"2023-10-09","v":42},{"d":"2023-10-24","v":48},{"d":"2023-11-01","v":42},{"d":"2023-11-16","v":38},{"d":"2023-12-01","v":40},{"d":"2023-12-16","v":36},{"d":"2024-01-01","v":34},{"d":"2024-01-16","v":36},{"d":"2024-02-01","v":34},{"d":"2024-02-16","v":31},{"d":"2024-03-01","v":32},{"d":"2024-03-16","v":33},{"d":"2024-04-01","v":36},{"d":"2024-04-16","v":34},{"d":"2024-05-01","v":32},{"d":"2024-05-16","v":29},{"d":"2024-06-01","v":30},{"d":"2024-06-16","v":27},{"d":"2024-07-01","v":28},{"d":"2024-07-16","v":27},{"d":"2024-08-01","v":30},{"d":"2024-08-08","v":44},{"d":"2024-08-16","v":38},{"d":"2024-09-01","v":34},{"d":"2024-09-10","v":39},{"d":"2024-09-16","v":36},{"d":"2024-09-30","v":38}
                  ]},
                  "mark": {"type": "line", "strokeWidth": 2, "clip": true},
                  "encoding": {
                    "x": {"field": "d", "type": "temporal", "scale": {"domain": [{"year": 2014, "month": 9, "date": 30}, {"year": 2024, "month": 9, "date": 30}]}, "axis": {"format": "%b-%y", "values": [{"year": 2014, "month": 9, "date": 30}, {"year": 2016, "month": 9, "date": 30}, {"year": 2018, "month": 9, "date": 30}, {"year": 2020, "month": 9, "date": 30}, {"year": 2022, "month": 9, "date": 30}, {"year": 2024, "month": 9, "date": 30}]}},
                    "y": {"field": "v", "type": "quantitative", "scale": {"domain": [10, 100], "nice": false, "zero": false}, "axis": {"values": [10, 40, 70, 100]}},
                    "color": {"datum": "OVX Index", "type": "nominal", "scale": {"domain": ["OVX Index", "Average"], "range": ["#0d6aa3", "#27aee4"]}, "legend": {"title": null}},
                    "strokeDash": {"datum": "OVX Index", "type": "nominal", "scale": {"domain": ["OVX Index", "Average"], "range": [[1, 0], [6, 3]]}, "legend": {"title": null}}
                  }
                },
                {
                  "data": {"values": [{"v": 40}]},
                  "mark": {"type": "rule", "strokeWidth": 2},
                  "encoding": {
                    "y": {"field": "v", "type": "quantitative"},
                    "color": {"datum": "Average", "type": "nominal"},
                    "strokeDash": {"datum": "Average", "type": "nominal"}
                  }
                }
              ]
            }
          ]
        }
      ]
    },
    {
      "width": 1190, "height": 57,
      "resolve": {"scale": {"y": "independent"}},
      "layer": [
        {
          "data": {"values": [{"edge": 0}, {"edge": 1}]},
          "mark": {"type": "rule", "color": "#c8c8c8", "strokeWidth": 1},
          "encoding": {
            "x": {"datum": 0, "type": "quantitative", "scale": {"domain": [0.0286, 1], "nice": false, "zero": false}, "axis": null},
            "x2": {"datum": 1},
            "y": {"field": "edge", "type": "quantitative", "scale": {"domain": [0, 1], "nice": false, "zero": false}, "axis": null}
          }
        },
        {
          "data": {"values": [
            {"line": 1, "text": "Source: (left, top) CBOE, S&P Dow Jones, iCapital Investment Strategy, with data based on availability as of Oct. 31, 2024. Note: Data through Sep. 30, 2024, and is subject to change based on potential updates to source(s) database. (left, bottom) Deutsche Bank, iCapital Investment Strategy, with"},
            {"line": 2, "text": "data based on availability as of Oct. 31, 2024. Note: Data through Sep. 30, 2024, and is subject to change based on potential updates to source(s) database. (right, top) Intercontinental Exchange (ICE), iCapital Investment Strategy, with data based on availability as of Oct. 31, 2024. Note: Data through"},
            {"line": 3, "text": "Sep. 30, 2024, and is subject to change based on potential updates to source(s) database. (right, bottom) CBOE, S&P Dow Jones, iCapital Investment Strategy, with data based on availability as of Oct. 31, 2024. Note: Data through Sep. 30, 2024, and is subject to change based on potential updates"},
            {"line": 4, "text": "to source(s) database. See disclosure section for further index definitions, disclosures, and source attributions. For illustrative purposes only. Past performance is not indicative of future results. Future results are not guaranteed."}
          ]},
          "mark": {"type": "text", "align": "left", "baseline": "middle", "fontSize": 7.1, "font": "DejaVu Sans", "color": "#595959"},
          "encoding": {
            "y": {"field": "line", "type": "quantitative", "scale": {"domain": [-0.45, 5.45], "reverse": true, "nice": false, "zero": false}, "axis": null},
            "x": {"datum": 0, "type": "quantitative"},
            "text": {"field": "text"}
          }
        },
        {
          "data": {"values": [{"brand": "iCapital"}]},
          "mark": {"type": "text", "align": "right", "baseline": "middle", "fontSize": 24, "font": "DejaVu Serif", "color": "#0e3f74"},
          "encoding": {
            "x": {"datum": 0.9796, "type": "quantitative"},
            "text": {"field": "brand"}
          }
        },
        {
          "data": {"values": [{"page": "81"}]},
          "mark": {"type": "text", "align": "left", "baseline": "middle", "fontSize": 10, "font": "DejaVu Sans", "fontWeight": "bold", "color": "#404040", "dy": 4},
          "encoding": {
            "x": {"datum": 0.9878, "type": "quantitative"},
            "text": {"field": "page"}
          }
        }
      ]
    }
  ]
}
